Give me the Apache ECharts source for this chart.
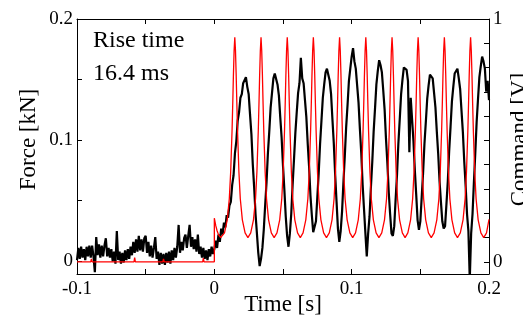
<!DOCTYPE html>
<html><head><meta charset="utf-8">
<script src="https://cdn.jsdelivr.net/npm/echarts@6/dist/echarts.min.js"></script>
<style>html,body{margin:0;padding:0;background:#fff}#c{width:523px;height:322px}</style>
</head><body><div id="c"></div>
<script>
// ---- axis ticks / labels ----
const xTicks = [-0.1, -0.05, 0, 0.05, 0.1, 0.15, 0.2];
const xLabels = [-0.1, 0, 0.1, 0.2];
const forceTicks = [0, 0.05, 0.1, 0.15, 0.2];
const forceLabels = [0, 0.1, 0.2];
const cmdTicks = [0, 0.1, 0.2, 0.3, 0.4, 0.5, 0.6, 0.7, 0.8, 0.9, 1];
const cmdLabels = [0, 1];

// ---- Force [kN], sampled every 1 ms from -100 ms ----
const forceStartMs = -100;
const forceStepMs = 1;
const forceValues = [
  0.001,0.011,0.002,0.012,0.003,0.010,0.001,0.012,0.004,0.013,
  0.003,0.013,0.004,-0.009,0.020,0.005,0.014,0.003,0.013,0.004,
  0.013,0.019,0.004,0.011,0.003,0.010,0.000,0.008,-0.002,0.025,
  0.001,0.008,-0.002,0.007,-0.001,0.009,0.001,0.010,0.002,0.012,
  0.005,0.016,0.007,0.018,0.008,0.021,0.009,0.018,0.008,0.019,
  0.021,0.007,0.016,0.004,0.013,0.003,0.011,0.020,0.002,0.008,
  -0.003,0.007,-0.002,0.006,-0.003,0.007,-0.001,0.008,-0.002,0.009,
  0.001,0.011,0.003,0.012,0.030,0.007,0.016,0.009,0.019,0.022,
  0.011,0.021,0.030,0.012,0.020,0.010,0.018,0.008,0.022,0.006,
  0.012,0.003,0.011,0.002,0.009,0.001,0.010,0.004,0.012,0.006,
  0.010,0.017,0.011,0.022,0.016,0.027,0.022,0.032,0.028,0.038,
  0.036,0.046,0.049,0.063,0.071,0.089,0.099,0.116,0.123,0.135,
  0.138,0.147,0.146,0.152,0.144,0.138,0.121,0.105,0.080,0.061,
  0.039,0.023,0.007,-0.004,0.002,0.011,0.026,0.046,0.065,0.089,
  0.107,0.127,0.139,0.151,0.155,0.156,0.146,0.137,0.119,0.102,
  0.079,0.059,0.037,0.021,0.012,0.023,0.039,0.063,0.084,0.106,
  0.123,0.139,0.147,0.168,0.151,0.147,0.133,0.119,0.097,0.078,
  0.054,0.038,0.024,0.023,0.033,0.053,0.073,0.097,0.116,0.135,
  0.146,0.156,0.159,0.158,0.149,0.138,0.117,0.097,0.071,0.049,
  0.027,0.016,0.025,0.041,0.065,0.087,0.111,0.129,0.149,0.159,
  0.169,0.176,0.165,0.159,0.145,0.131,0.109,0.089,0.063,0.043,
  0.023,0.004,0.023,0.037,0.061,0.082,0.107,0.126,0.146,0.157,
  0.166,0.162,0.156,0.141,0.125,0.101,0.081,0.057,0.039,0.023,
  0.021,0.029,0.051,0.071,0.097,0.117,0.138,0.150,0.160,0.160,
  0.158,0.149,0.090,0.135,0.117,0.099,0.075,0.055,0.034,0.026,
  0.033,0.053,0.073,0.097,0.115,0.134,0.145,0.154,0.154,0.151,
  0.139,0.127,0.107,0.089,0.066,0.049,0.033,0.027,0.029,0.047,
  0.066,0.091,0.111,0.132,0.144,0.155,0.156,0.159,0.151,0.142,
  0.124,0.106,0.082,0.062,0.039,0.025,-0.015,0.023,0.039,0.065,
  0.089,0.115,0.134,0.152,0.161,0.169,0.165,0.159,0.140,0.149,
  0.133
];

// ---- Command [V] (times in ms) ----
const cmdTimesMs = [
  -100,-90,-89.5,-89,-75,-58.5,-58,-57.5,-45,-37.5,-37,-36.5,-20,-8.5,-8,-7.5,0,
  0,1,2,3,4.6,6,7.4,
  9.4,10.9,11.9,12.9,13.4,13.9,14.4,14.9,15.4,15.9,16.4,16.9,17.9,18.9,20.4,22.4,24.45,
  26.5,28.5,30.0,31.0,32.0,32.5,33.0,33.5,34.0,34.5,35.0,35.5,36.0,37.0,38.0,39.5,41.5,43.55,
  45.6,47.6,49.1,50.1,51.1,51.6,52.1,52.6,53.1,53.6,54.1,54.6,55.1,56.1,57.1,58.6,60.6,62.6,
  64.6,66.6,68.1,69.1,70.1,70.6,71.1,71.6,72.1,72.6,73.1,73.6,74.1,75.1,76.1,77.6,79.6,81.65,
  83.7,85.7,87.2,88.2,89.2,89.7,90.2,90.7,91.2,91.7,92.2,92.7,93.2,94.2,95.2,96.7,98.7,100.75,
  102.8,104.8,106.3,107.3,108.3,108.8,109.3,109.8,110.3,110.8,111.3,111.8,112.3,113.3,114.3,115.8,117.8,119.85,
  121.9,123.9,125.4,126.4,127.4,127.9,128.4,128.9,129.4,129.9,130.4,130.9,131.4,132.4,133.4,134.9,136.9,138.9,
  140.9,142.9,144.4,145.4,146.4,146.9,147.4,147.9,148.4,148.9,149.4,149.9,150.4,151.4,152.4,153.9,155.9,157.95,
  160.0,162.0,163.5,164.5,165.5,166.0,166.5,167.0,167.5,168.0,168.5,169.0,169.5,170.5,171.5,173.0,175.0,177.05,
  179.1,181.1,182.6,183.6,184.6,185.1,185.6,186.1,186.6,187.1,187.6,188.1,188.6,189.6,190.6,192.1,194.1,196.15,
  198.2,200
];
const cmdValues = [
  0,0,0.012,0,0,0,0.018,0,0,0,0.012,0,0,0,0.015,0,0,
  0.18,0.15,0.128,0.112,0.100,0.106,0.119,
  0.173,0.26,0.37,0.54,0.65,0.77,0.87,0.925,0.87,0.77,0.65,0.54,0.37,0.26,0.173,0.119,0.100,
  0.119,0.173,0.26,0.37,0.54,0.65,0.77,0.87,0.925,0.87,0.77,0.65,0.54,0.37,0.26,0.173,0.119,0.100,
  0.119,0.173,0.26,0.37,0.54,0.65,0.77,0.87,0.925,0.87,0.77,0.65,0.54,0.37,0.26,0.173,0.119,0.100,
  0.119,0.173,0.26,0.37,0.54,0.65,0.77,0.87,0.925,0.87,0.77,0.65,0.54,0.37,0.26,0.173,0.119,0.100,
  0.119,0.173,0.26,0.37,0.54,0.65,0.77,0.87,0.925,0.87,0.77,0.65,0.54,0.37,0.26,0.173,0.119,0.100,
  0.119,0.173,0.26,0.37,0.54,0.65,0.77,0.87,0.925,0.87,0.77,0.65,0.54,0.37,0.26,0.173,0.119,0.100,
  0.119,0.173,0.26,0.37,0.54,0.65,0.77,0.87,0.925,0.87,0.77,0.65,0.54,0.37,0.26,0.173,0.119,0.100,
  0.119,0.173,0.26,0.37,0.54,0.65,0.77,0.87,0.925,0.87,0.77,0.65,0.54,0.37,0.26,0.173,0.119,0.100,
  0.119,0.173,0.26,0.37,0.54,0.65,0.77,0.87,0.925,0.87,0.77,0.65,0.54,0.37,0.26,0.173,0.119,0.100,
  0.119,0.173,0.26,0.37,0.54,0.65,0.77,0.87,0.925,0.87,0.77,0.65,0.54,0.37,0.26,0.173,0.119,0.100,
  0.119,0.175
];

const annotation = ['Rise time', '16.4 ms'];

// ---- build series data ----
const forceData = forceValues.map((v, i) => [(forceStartMs + i * forceStepMs) / 1000, v]);
const cmdData = cmdTimesMs.map((t, i) => [t / 1000, cmdValues[i]]);

const FONT = '"Liberation Serif", "Times New Roman", serif';
const black = '#000';
const tickFmt = v => String(+v.toFixed(2));

const chart = echarts.init(document.getElementById('c'), null, {renderer: 'canvas'});
chart.setOption({
  animation: false,
  backgroundColor: '#fff',
  grid: {left: 77, right: 34, top: 19, bottom: 48, containLabel: false, outerBoundsMode: 'none'},
  xAxis: [{
    type: 'value', position: 'bottom', min: -0.1, max: 0.2,
    name: 'Time [s]', nameLocation: 'middle', nameGap: 19, nameMoveOverlap: false,
    nameTextStyle: {fontFamily: FONT, fontSize: 23, color: black, verticalAlign: 'top'},
    axisLine: {show: true, onZero: false, lineStyle: {color: black, width: 1}},
    axisTick: {show: true, inside: true, length: 5, customValues: xTicks, lineStyle: {color: black}},
    axisLabel: {show: true, customValues: xLabels, margin: 6, fontFamily: FONT, fontSize: 19, color: black, formatter: tickFmt},
    splitLine: {show: false}
  }, {
    type: 'value', position: 'top', min: -0.1, max: 0.2,
    axisLine: {show: true, onZero: false, lineStyle: {color: black, width: 1}},
    axisTick: {show: true, inside: true, length: 5, customValues: xTicks, lineStyle: {color: black}},
    axisLabel: {show: false},
    splitLine: {show: false}
  }],
  yAxis: [{
    type: 'value', position: 'left', min: -0.0105, max: 0.2,
    name: 'Force [kN]', nameLocation: 'middle', nameGap: 37, nameRotate: 90, nameMoveOverlap: false,
    nameTextStyle: {fontFamily: FONT, fontSize: 23, color: black, padding: [0, 0, 0, 14]},
    axisLine: {show: true, onZero: false, lineStyle: {color: black, width: 1}},
    axisTick: {show: true, inside: true, length: 5, customValues: forceTicks, lineStyle: {color: black}},
    axisLabel: {show: true, customValues: forceLabels, margin: 4, fontFamily: FONT, fontSize: 19, color: black, formatter: tickFmt},
    splitLine: {show: false}
  }, {
    type: 'value', position: 'right', min: -0.05, max: 1,
    name: 'Command [V]', nameLocation: 'middle', nameGap: 19, nameRotate: 90, nameMoveOverlap: false,
    nameTextStyle: {fontFamily: FONT, fontSize: 23, color: black, padding: [0, 0, 0, 14]},
    axisLine: {show: true, onZero: false, lineStyle: {color: black, width: 1}},
    axisTick: {show: true, inside: true, length: 5, customValues: cmdTicks, lineStyle: {color: black}},
    axisLabel: {show: true, customValues: cmdLabels, margin: 4, fontFamily: FONT, fontSize: 19, color: black, formatter: tickFmt},
    splitLine: {show: false}
  }],
  series: [{
    name: 'Force', type: 'line', xAxisIndex: 0, yAxisIndex: 0,
    data: forceData, showSymbol: false, symbol: 'none', clip: true,
    lineStyle: {color: '#000', width: 2.2}, z: 2
  }, {
    name: 'Command', type: 'line', xAxisIndex: 0, yAxisIndex: 1,
    data: cmdData, showSymbol: false, symbol: 'none', clip: true,
    lineStyle: {color: '#ff0000', width: 1.3}, z: 3
  }],
  graphic: [{
    type: 'text', left: 93, top: 29, z: 10,
    style: {text: annotation[0], fontFamily: FONT, fontSize: 24, fill: black}
  }, {
    type: 'text', left: 93, top: 62, z: 10,
    style: {text: annotation[1], fontFamily: FONT, fontSize: 24, fill: black}
  }]
});
</script>
</body></html>
